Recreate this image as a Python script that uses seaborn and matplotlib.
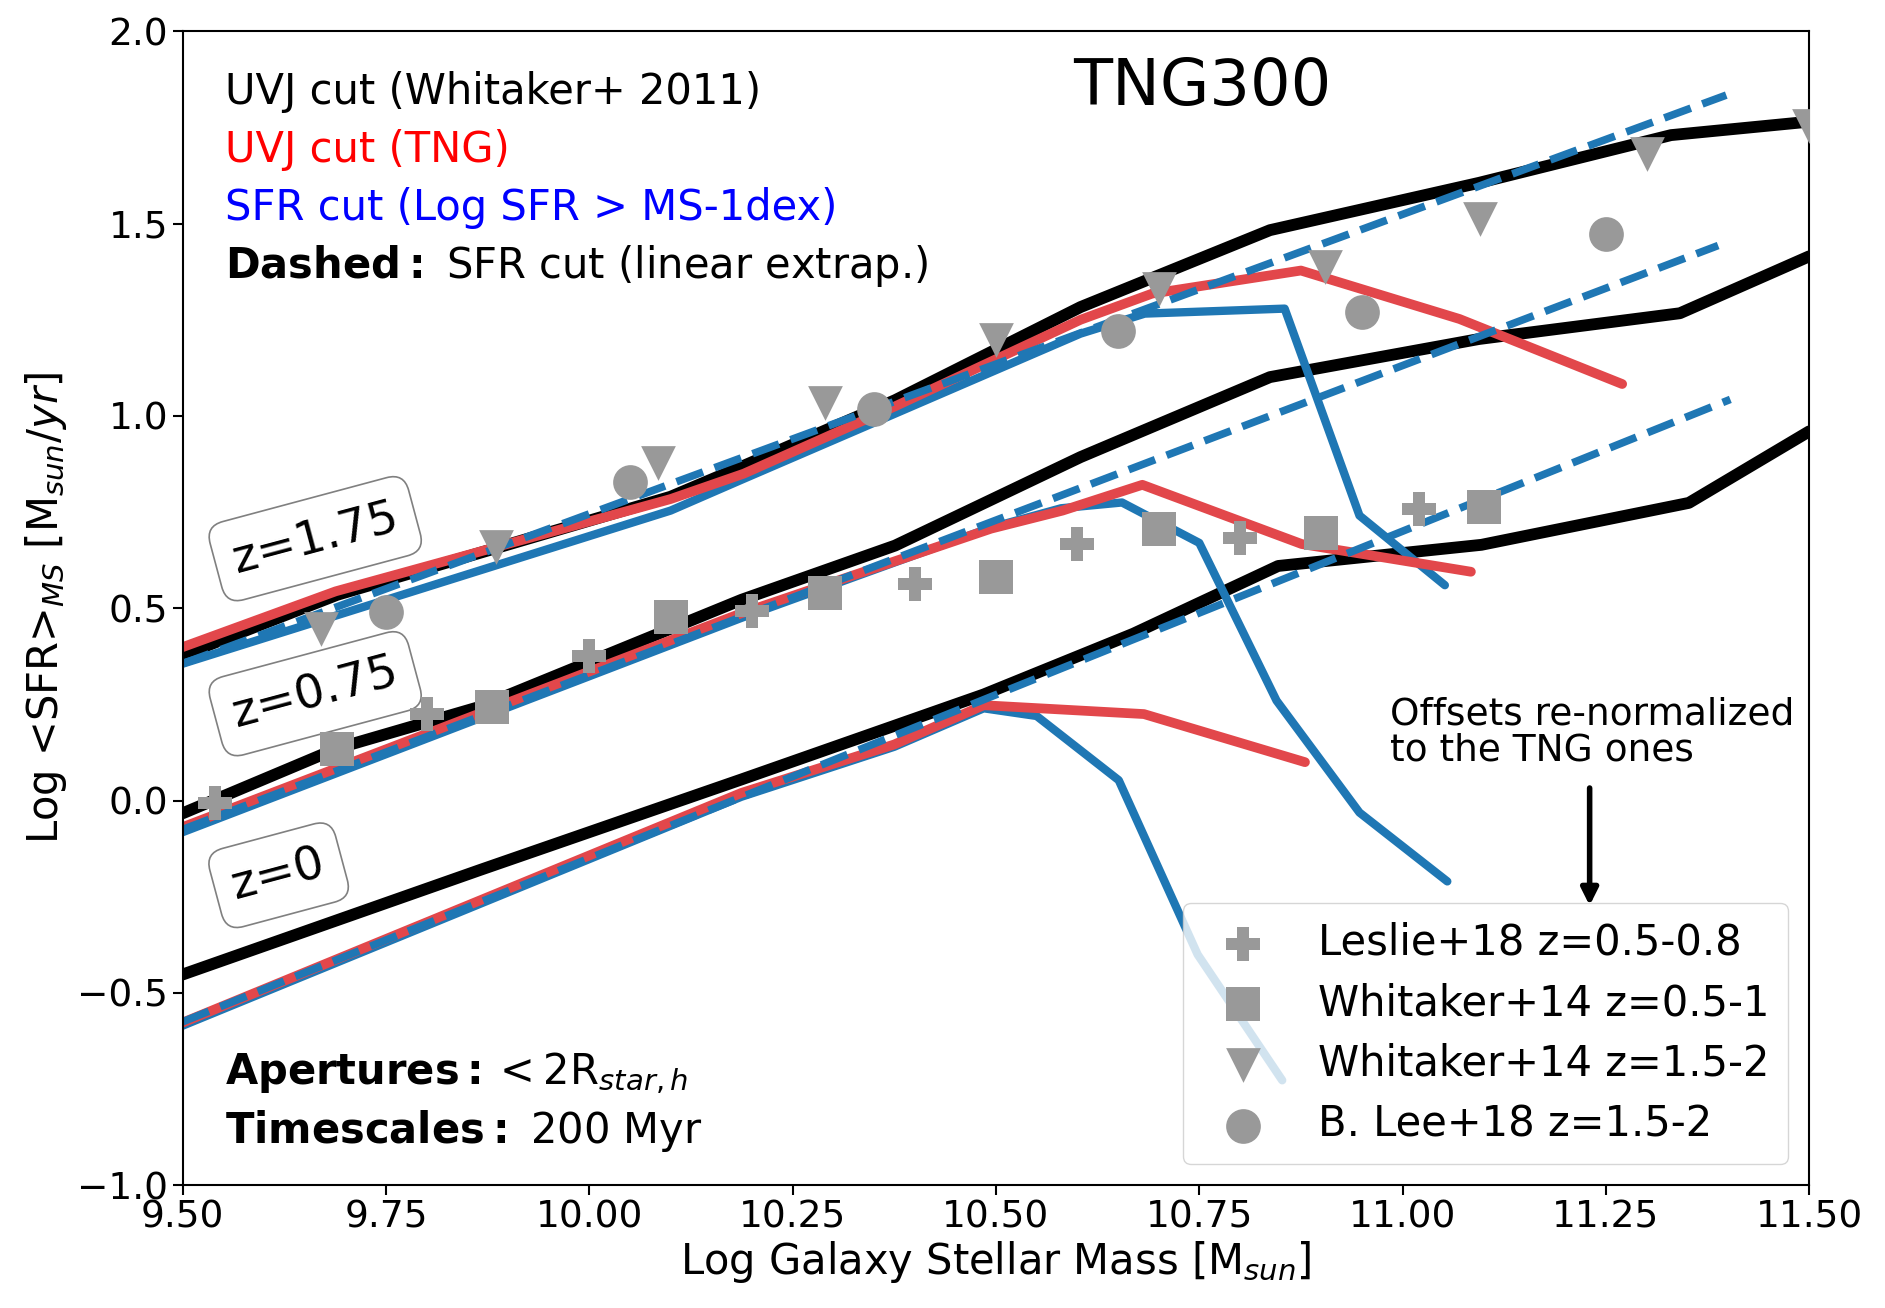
import matplotlib
matplotlib.use("Agg")
import matplotlib.pyplot as plt
import seaborn as sns
import numpy as np

# ---------------- data ----------------
# UVJ cut (Whitaker+2011) - black
mass_bk_z0 = [9.5, 9.866, 10.187, 10.485, 10.669, 10.847, 11.097, 11.352, 11.5]
sfr_bk_z0 = [-0.452, -0.18, 0.055, 0.276, 0.434, 0.61, 0.665, 0.774, 0.96]
mass_bk_z075 = [9.5, 9.69, 9.864, 10.187, 10.376, 10.604, 10.837, 11.094, 11.341, 11.5]
sfr_bk_z075 = [-0.033, 0.136, 0.243, 0.522, 0.663, 0.893, 1.101, 1.20, 1.267, 1.415]
mass_bk_z175 = [9.5, 9.69, 10.1, 10.186, 10.376, 10.604, 10.837, 11.094, 11.33, 11.5]
sfr_bk_z175 = [0.378, 0.535, 0.79, 0.867, 1.041, 1.283, 1.483, 1.606, 1.73, 1.765]

# UVJ cut (TNG) - red
mass_rd_z0 = [9.5, 10.187, 10.375, 10.485, 10.682, 10.88]
sfr_rd_z0 = [-0.577, 0.02, 0.146, 0.248, 0.225, 0.10]
mass_rd_z075 = [9.5, 10.187, 10.494, 10.582, 10.68, 10.876, 11.084]
sfr_rd_z075 = [-0.069, 0.487, 0.707, 0.754, 0.821, 0.667, 0.595]
mass_rd_z175 = [9.5, 9.688, 10.1, 10.19, 10.376, 10.604, 10.692, 10.875, 11.07, 11.27]
sfr_rd_z175 = [0.399, 0.544, 0.784, 0.85, 1.025, 1.25, 1.318, 1.378, 1.252, 1.083]

# SFR cut - blue solid
mass_bl_z0 = [9.5, 10.187, 10.375, 10.485, 10.55, 10.651, 10.748, 10.852]
sfr_bl_z0 = [-0.585, 0.01, 0.14, 0.24, 0.22, 0.053, -0.40, -0.727]
mass_bl_z075 = [9.5, 10.187, 10.494, 10.58, 10.655, 10.75, 10.845, 10.947, 11.055]
sfr_bl_z075 = [-0.082, 0.475, 0.71, 0.76, 0.775, 0.67, 0.26, -0.031, -0.21]
mass_bl_z175 = [9.5, 10.1, 10.186, 10.376, 10.604, 10.683, 10.855, 10.947, 11.052]
sfr_bl_z175 = [0.356, 0.754, 0.833, 1.006, 1.214, 1.266, 1.279, 0.741, 0.56]

# SFR cut, linear extrapolation - blue dashed
mass_ds_z0 = [9.5, 11.403]
sfr_ds_z0 = [-0.575, 1.043]
mass_ds_z075 = [9.5, 11.388]
sfr_ds_z075 = [-0.075, 1.443]
mass_ds_z175 = [9.5, 11.398]
sfr_ds_z175 = [0.356, 1.834]

# Observations
leslie_m = [9.54, 9.80, 10.0, 10.2, 10.4, 10.6, 10.8, 11.02]
leslie_s = [-0.006, 0.225, 0.375, 0.494, 0.562, 0.666, 0.684, 0.759]
w14lo_m = [9.69, 9.88, 10.1, 10.29, 10.5, 10.7, 10.9, 11.1]
w14lo_s = [0.134, 0.244, 0.478, 0.541, 0.581, 0.706, 0.697, 0.7625]
w14hi_m = [9.67, 9.885, 10.085, 10.29, 10.5, 10.7, 10.905, 11.095, 11.3, 11.5]
w14hi_s = [0.445, 0.66, 0.878, 1.034, 1.197, 1.331, 1.3875, 1.5125, 1.68, 1.753]
lee_m = [9.75, 10.05, 10.35, 10.65, 10.95, 11.25]
lee_s = [0.491, 0.828, 1.019, 1.222, 1.269, 1.472]

xticks = [9.50, 9.75, 10.00, 10.25, 10.50, 10.75, 11.00, 11.25, 11.50]
yticks = [-1.0, -0.5, 0.0, 0.5, 1.0, 1.5, 2.0]

# ---------------- style ----------------
sns.set_style("ticks")
plt.rcParams['font.family'] = ['DejaVu Sans']
plt.rcParams['axes.edgecolor'] = 'black'
plt.rcParams['xtick.color'] = 'black'
plt.rcParams['ytick.color'] = 'black'
plt.rcParams['text.color'] = 'black'
plt.rcParams['axes.labelcolor'] = 'black'

BLACK = 'black'
RED = '#e2474b'
BLUE = '#1f77b4'
GRAY = '#999999'

fig = plt.figure(figsize=(18.85, 13.08), dpi=100)
ax = fig.add_axes([0.0969, 0.0938, 0.8629, 0.8823])

LW_BK, LW_RD, LW_BL, LW_DS = 8.5, 7, 6, 5.5

for m, s in [(mass_bk_z0, sfr_bk_z0), (mass_bk_z075, sfr_bk_z075), (mass_bk_z175, sfr_bk_z175)]:
    sns.lineplot(x=m, y=s, sort=False, estimator=None, color=BLACK, lw=LW_BK, legend=False, ax=ax)
for m, s in [(mass_bl_z0, sfr_bl_z0), (mass_bl_z075, sfr_bl_z075), (mass_bl_z175, sfr_bl_z175)]:
    sns.lineplot(x=m, y=s, sort=False, estimator=None, color=BLUE, lw=LW_BL, legend=False, ax=ax)
for m, s in [(mass_rd_z0, sfr_rd_z0), (mass_rd_z075, sfr_rd_z075), (mass_rd_z175, sfr_rd_z175)]:
    sns.lineplot(x=m, y=s, sort=False, estimator=None, color=RED, lw=LW_RD, legend=False, ax=ax)
for m, s in [(mass_ds_z0, sfr_ds_z0), (mass_ds_z075, sfr_ds_z075), (mass_ds_z175, sfr_ds_z175)]:
    sns.lineplot(x=m, y=s, sort=False, estimator=None, color=BLUE, lw=LW_DS, linestyle='--',
                 legend=False, ax=ax)

MS = 25
sns.scatterplot(x=leslie_m, y=leslie_s, marker='P', s=MS**2, color=GRAY, linewidth=0,
                label='Leslie+18 z=0.5-0.8', ax=ax, zorder=4)
sns.scatterplot(x=w14lo_m, y=w14lo_s, marker='s', s=MS**2, color=GRAY, linewidth=0,
                label='Whitaker+14 z=0.5-1', ax=ax, zorder=4)
sns.scatterplot(x=w14hi_m, y=w14hi_s, marker='v', s=MS**2, color=GRAY, linewidth=0,
                label='Whitaker+14 z=1.5-2', ax=ax, zorder=4)
sns.scatterplot(x=lee_m, y=lee_s, marker='o', s=MS**2, color=GRAY, linewidth=0,
                label='B. Lee+18 z=1.5-2', ax=ax, zorder=4)

ax.set_xlim(9.5, 11.5)
ax.set_ylim(-1.0, 2.0)
ax.set_xticks(xticks)
ax.set_xticklabels([f"{t:.2f}" for t in xticks])
ax.set_yticks(yticks)
ax.set_yticklabels([f"{t:.1f}".replace('-', '\u2212') for t in yticks])
ax.tick_params(labelsize=27, length=7, width=1.5, direction='out')
for sp in ax.spines.values():
    sp.set_linewidth(1.5)
    sp.set_color('black')

ax.set_xlabel('Log Galaxy Stellar Mass [M$_{sun}$]', fontsize=30, labelpad=2)
ax.set_ylabel('Log <SFR>$_{MS}$ [M$_{sun}$/$yr$]', fontsize=30, labelpad=6)

leg = ax.legend(loc='lower right', fontsize=30, framealpha=0.8, labelspacing=0.45,
                handletextpad=0.8, borderpad=0.45)

# Texts
tf = dict(transform=ax.transAxes, fontsize=30, va='center', ha='left')
ax.text(0.026, 0.947, 'UVJ cut (Whitaker+ 2011)', color='black', **tf)
ax.text(0.026, 0.897, 'UVJ cut (TNG)', color='red', **tf)
ax.text(0.026, 0.847, 'SFR cut (Log SFR > MS-1dex)', color='blue', **tf)
ax.text(0.026, 0.797, r'$\bf{Dashed:}$ SFR cut (linear extrap.)', color='black', **tf)
ax.text(0.627, 0.952, 'TNG300', transform=ax.transAxes, fontsize=46, va='center', ha='center')
ax.text(0.026, 0.097, r'$\bf{Apertures:}$$< 2\mathrm{R}_{star,h}$', **tf)
ax.text(0.026, 0.047, r'$\bf{Timescales:}$ 200 Myr', **tf)

box = dict(boxstyle='round,pad=0.38', facecolor='white', edgecolor='gray', lw=1.2)
ax.text(9.663, 0.681, 'z=1.75', rotation=15, fontsize=34, ha='center', va='center', bbox=box)
ax.text(9.663, 0.278, 'z=0.75', rotation=15, fontsize=34, ha='center', va='center', bbox=box)
ax.text(9.618, -0.194, 'z=0', rotation=15, fontsize=34, ha='center', va='center', bbox=box)

ax.text(10.985, 0.27, 'Offsets re-normalized\nto the TNG ones', fontsize=27, ha='left', va='top',
        linespacing=1.0)
ax.annotate('', xy=(11.23, -0.28), xytext=(11.23, 0.04),
            arrowprops=dict(arrowstyle='-|>', color='black', lw=4, mutation_scale=25))

fig.savefig('out.png', dpi=100)
